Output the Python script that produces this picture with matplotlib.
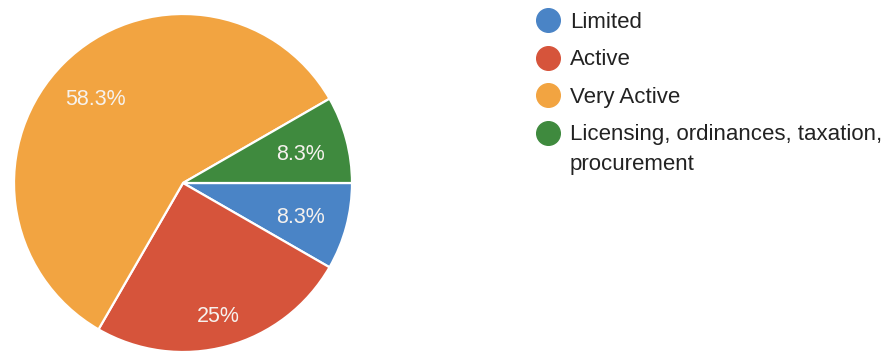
import matplotlib
matplotlib.use("Agg")
import matplotlib.pyplot as plt
import numpy as np

plt.rcParams['font.family'] = ['Liberation Sans', 'DejaVu Sans']

labels = ['Limited', 'Active', 'Very Active',
          'Licensing, ordinances, taxation,\nprocurement']
shares = [8.3, 25.0, 58.3, 8.3]
colors = ['#4a84c6', '#d6543b', '#f2a441', '#3f8a3e']
pct_text = ['8.3%', '25%', '58.3%', '8.3%']
# how far out each percentage sits, as a fraction of the radius
label_dist = [0.72, 0.80, 0.73, 0.72]

W, H = 895, 353
fig = plt.figure(figsize=(W / 100, H / 100), dpi=100)

# pie sits on the left, centre ~ (183, 183) px, radius ~169 px
cx, cy, r = 183, 183, 169
ax = fig.add_axes([(cx - r) / W, (H - cy - r) / H, 2 * r / W, 2 * r / H])

wedges, _ = ax.pie(shares, colors=colors, startangle=0, counterclock=False,
                   radius=1.0,
                   wedgeprops=dict(edgecolor='white', linewidth=1.6))
for w, txt, d in zip(wedges, pct_text, label_dist):
    mid = np.deg2rad((w.theta1 + w.theta2) / 2)
    ax.text(d * np.cos(mid), d * np.sin(mid) - 0.02, txt, color='#f6f2ee',
            fontsize=15.5, ha='center', va='center')
ax.set_xlim(-1.0, 1.0)
ax.set_ylim(-1.0, 1.0)
ax.set_aspect('equal')
ax.axis('off')

# legend drawn by hand in pixel space so the marker sits on the first line
lax = fig.add_axes([0, 0, 1, 1], zorder=3)
lax.set_xlim(0, W)
lax.set_ylim(H, 0)
lax.axis('off')

row0, row_gap = 20, 37.5
for i, (lab, c) in enumerate(zip(labels, colors)):
    y = row0 + i * row_gap
    lax.plot(548, y, marker='o', markersize=17, color=c, linestyle='none')
    lax.text(570, y - 8.5, lab, fontsize=16, color='#222222',
             ha='left', va='top', linespacing=1.55)

fig.savefig('out.png', dpi=100, facecolor='white')
